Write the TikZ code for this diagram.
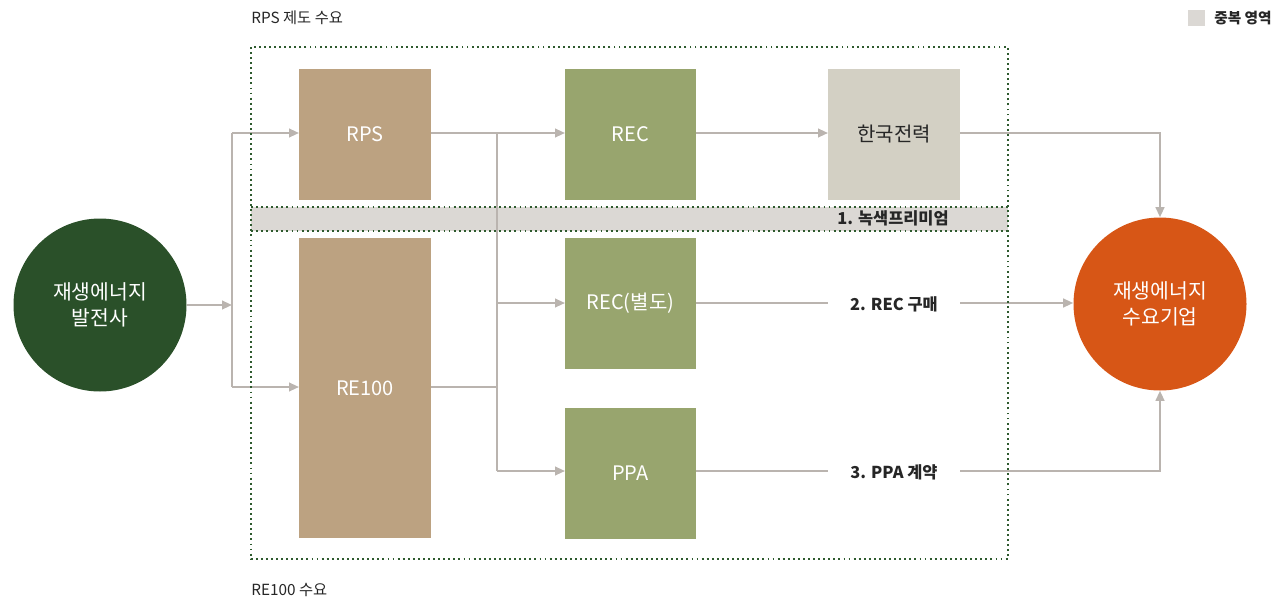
\documentclass[tikz,border=0pt]{standalone}
\usepackage{fontspec}
\setmainfont{Noto Sans CJK KR}
\usetikzlibrary{arrows.meta}
\definecolor{tan}{HTML}{BCA281}
\definecolor{olive}{HTML}{98A56E}
\definecolor{kepco}{HTML}{D3D0C4}
\definecolor{band}{HTML}{DBD8D4}
\definecolor{dkgreen}{HTML}{2A5029}
\definecolor{orng}{HTML}{D75616}
\definecolor{arr}{HTML}{BAB4AF}
\definecolor{dot}{HTML}{2E5A2E}
\tikzset{
  boxn/.style={inner sep=0pt, text=white, font=\fontsize{15}{17}\selectfont},
  circn/.style={circle, inner sep=0pt, minimum size=173*0.75pt, text=white, align=center, font=\fontsize{15.3}{20}\selectfont},
  lbl/.style={inner sep=1pt, font=\fontsize{12.3}{14}\selectfont\bfseries, text=black!85},
  captxt/.style={inner sep=0pt, anchor=west, font=\fontsize{11.5}{13}\selectfont, text=black!85},
  conn/.style={draw=arr, line width=1.5pt},
  arrw/.style={conn, -{Triangle[length=7.5pt,width=6.5pt]}},
  dotline/.style={draw=dot, line width=1.5pt, dash pattern=on 1.4pt off 2.4pt},
}
\begin{document}
\begin{tikzpicture}[x=0.75pt,y=-0.75pt]
\useasboundingbox (0,0) rectangle (1275,603);
% band
\fill[band] (251,207) rectangle (1008,231);
% boxes
\fill[tan] (299,69) rectangle (431,200);
\node[boxn] (rps) at (365,134.5) {RPS};
\fill[olive] (565,69) rectangle (696,200);
\node[boxn] (rec) at (630.5,134.5) {REC};
\fill[kepco] (828,69) rectangle (960,200);
\node[boxn, text=black!85] (kep) at (894,134.5) {한국전력};
\fill[tan] (299,238) rectangle (431,538);
\node[boxn] (re) at (365,388) {RE100};
\fill[olive] (565,238) rectangle (696,369);
\node[boxn] (rec2) at (630.5,303.5) {REC(별도)};
\fill[olive] (565,408) rectangle (696,539);
\node[boxn] (ppa) at (630.5,473.5) {PPA};
% coordinates for box edges
\coordinate (rpsR) at (431,133);
\coordinate (rpsL) at (299,133);
\coordinate (reL) at (299,387);
\coordinate (reR) at (431,387);
\coordinate (recL) at (565,133);
\coordinate (recR) at (696,133);
\coordinate (kepL) at (828,133);
\coordinate (kepR) at (960,133);
\coordinate (rec2L) at (565,303);
\coordinate (rec2R) at (696,303);
\coordinate (ppaL) at (565,471);
\coordinate (ppaR) at (696,471);
\coordinate (s1) at (232,305);
\coordinate (s2) at (497,133);
% circles
\node[circn, fill=dkgreen] (gen) at (100,305) {재생에너지\\발전사};
\node[circn, fill=orng] (cons) at (1160,304) {재생에너지\\수요기업};
% labels
\node[lbl] (l1) at (893,218.5) {1. 녹색프리미엄};
\node[lbl] (l2) at (894,304) {2. REC 구매};
\node[lbl] (l3) at (894,472) {3. PPA 계약};
% connectors
\draw[arrw] (gen.east |- s1) -- (s1);
\draw[conn] (232,133) -- (232,387);
\draw[arrw] (232,133) -- (rpsL);
\draw[arrw] (232,387) -- (reL);
\draw[conn] (rpsR) -- (s2);
\draw[conn] (reR) -- (497,387);
\draw[conn] (s2) -- (497,471);
\draw[arrw] (s2) -- (recL);
\draw[arrw] (497,303) -- (rec2L);
\draw[arrw] (497,471) -- (ppaL);
\draw[arrw] (recR) -- (kepL);
\draw[arrw] (kepR) -| (cons.north);
\draw[conn] (rec2R) -- (828,303);
\draw[arrw] (960,303) -- (cons.west |- 0,303);
\draw[conn] (ppaR) -- (828,471);
\draw[arrw] (960,471) -| (cons.south);
% dotted frames
\draw[dotline] (251,47) rectangle (1008,559);
\draw[dotline] (251,207) -- (1008,207);
\draw[dotline] (251,231) -- (1008,231);
% captions
\node[captxt] (c1) at (251,18) {RPS 제도 수요};
\node[captxt] (c2) at (251,590) {RE100 수요};
\fill[band] (1188,10) rectangle (1205,26);
\node[captxt, font=\fontsize{11}{13}\selectfont\bfseries] (c3) at (1214,18) {중복 영역};
\end{tikzpicture}
\end{document}
